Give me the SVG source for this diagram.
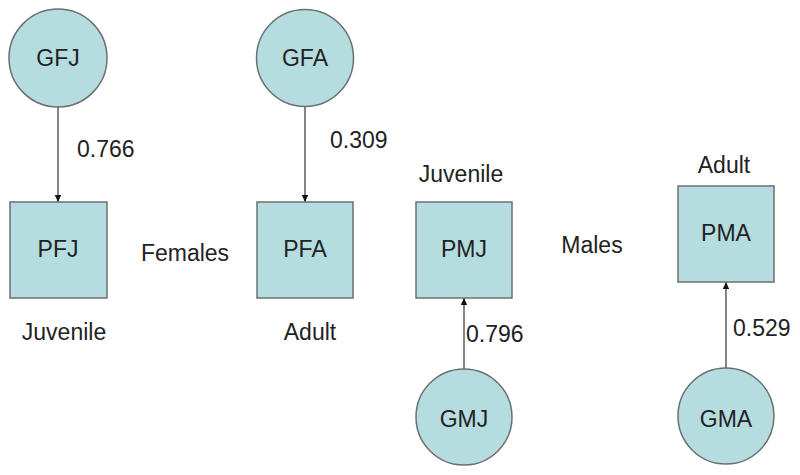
<svg xmlns="http://www.w3.org/2000/svg" width="800" height="475" viewBox="0 0 800 475">
<defs>
<style>
.n{fill:#b5dde0;stroke:#6a7072;stroke-width:1.5}
.t{font-family:"Liberation Sans",Arial,sans-serif;font-size:23px;fill:#222;text-anchor:middle}
.l{font-family:"Liberation Sans",Arial,sans-serif;font-size:23px;fill:#222}
.c{stroke:#333;stroke-width:1.2;fill:none;marker-end:url(#ah)}
</style>
<marker id="ah" markerWidth="8" markerHeight="8" refX="7" refY="4" orient="auto" markerUnits="userSpaceOnUse">
<path d="M0,0.8 L7,4 L0,7.2 Z" fill="#111"/>
</marker>
</defs>
<rect width="800" height="475" fill="#fff"/>
<g id="connectors">
<line class="c" x1="58" y1="107" x2="58" y2="202"/>
<line class="c" x1="305" y1="107" x2="305" y2="202"/>
<line class="c" x1="464" y1="370" x2="464" y2="298"/>
<line class="c" x1="726" y1="369" x2="726" y2="282"/>
<text class="l" x="77" y="157">0.766</text>
<text class="l" x="330" y="148">0.309</text>
<text class="l" x="466" y="342">0.796</text>
<text class="l" x="733" y="336">0.529</text>
</g>
<g id="GFJ"><circle class="n" cx="58" cy="58" r="49"/><text class="t" x="58" y="66">GFJ</text></g>
<g id="GFA"><circle class="n" cx="305" cy="58" r="48.5"/><text class="t" x="305" y="66">GFA</text></g>
<g id="PFJ"><rect class="n" x="10" y="202" width="97" height="96"/><text class="t" x="58" y="257">PFJ</text></g>
<g id="PFA"><rect class="n" x="257" y="202" width="96" height="96"/><text class="t" x="305" y="257">PFA</text></g>
<g id="PMJ"><rect class="n" x="416" y="202" width="96" height="96"/><text class="t" x="464" y="257">PMJ</text></g>
<g id="PMA"><rect class="n" x="678" y="186" width="96" height="96"/><text class="t" x="726" y="241">PMA</text></g>
<g id="GMJ"><circle class="n" cx="464" cy="417" r="48"/><text class="t" x="464" y="427">GMJ</text></g>
<g id="GMA"><circle class="n" cx="726" cy="416" r="48"/><text class="t" x="726" y="427">GMA</text></g>
<g id="labels">
<text class="t" x="64" y="340">Juvenile</text>
<text class="t" x="310" y="340">Adult</text>
<text class="t" x="185" y="261">Females</text>
<text class="t" x="461" y="182">Juvenile</text>
<text class="t" x="592" y="253">Males</text>
<text class="t" x="724" y="173">Adult</text>
</g>
</svg>
